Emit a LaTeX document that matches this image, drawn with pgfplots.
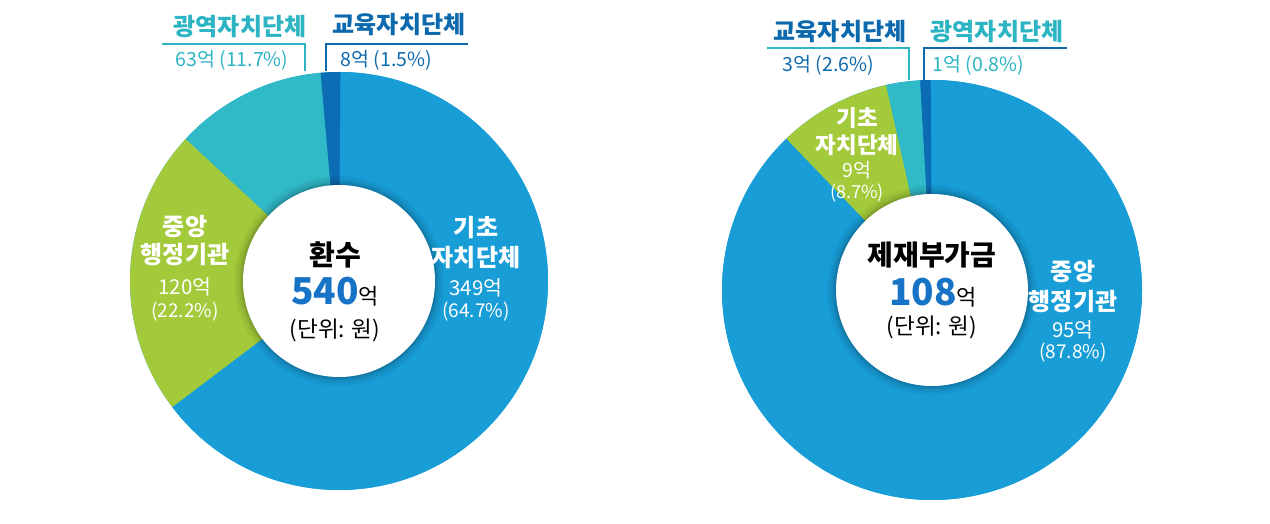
\documentclass[border=0pt]{standalone}
\usepackage{pgfplots}
\pgfplotsset{compat=1.18}
\usepackage{fontspec}
\setmainfont{Noto Sans CJK KR}
\definecolor{cBlue}{HTML}{189DD7}
\definecolor{cGreen}{HTML}{A3CA3A}
\definecolor{cTeal}{HTML}{30B9C6}
\definecolor{cDark}{HTML}{0B6CB3}
\definecolor{tTeal}{HTML}{2DB4C3}
\definecolor{tDark}{HTML}{0D69AE}
\definecolor{tNum}{HTML}{1673C5}
\newcommand\fs[1]{\fontsize{#1}{#1}\selectfont}
% donut: center x, center y, outer radius, list of percent/colour (clockwise from 12 o'clock)
\newcommand\donut[4]{%
  \fill[cBlue] (axis cs:#1,#2) circle[radius=#3pt];
  \gdef\acc{90}%
  \foreach \p/\c in {#4}{%
    \pgfmathsetmacro\e{\acc-3.6*\p}%
    \fill[\c] (axis cs:#1,#2) -- ++(\acc:#3pt) arc[start angle=\acc, end angle=\e, radius=#3pt] -- cycle;
    \global\let\acc\e
  }%
  \foreach \r/\o in {105/0.04,102/0.05,99.5/0.07,97.5/0.09}{\fill[black,opacity=\o] (axis cs:#1,#2) circle[radius=\r pt];}
  \fill[white] (axis cs:#1,#2) circle[radius=96pt];
}
\begin{document}
\begin{tikzpicture}
\begin{axis}[hide axis, scale only axis, disabledatascaling, x=1pt, y=1pt,
  xmin=0, xmax=1270, ymin=0, ymax=524, clip=false]
\pgfplotsextra{
  \path (axis cs:0,0) rectangle (axis cs:1270,524);
  % ---------- 환수 540억 ----------
  \donut{339}{243}{209}{64.7/cBlue,22.2/cGreen,11.7/cTeal,1.5/cDark}
  % ---------- 제재부가금 108억 ----------
  \donut{932}{234}{210}{87.8/cBlue,8.7/cGreen,2.6/cTeal,0.8/cDark}
  % leader lines left
  \draw[tTeal, line width=1.8pt] (axis cs:162,480) -- (axis cs:305,480) -- (axis cs:305,453);
  \draw[tDark, line width=1.8pt] (axis cs:468,480) -- (axis cs:326,480) -- (axis cs:326,453);
  % leader lines right
  \draw[tTeal, line width=1.8pt] (axis cs:767,476) -- (axis cs:909,476) -- (axis cs:909,444);
  \draw[tDark, line width=1.8pt] (axis cs:1067,476) -- (axis cs:924,476) -- (axis cs:924,444);
}
% top labels left
\node[tTeal, font=\fs{24}\bfseries] at (axis cs:240,497) {광역자치단체};
\node[tTeal, font=\fs{19.5}, anchor=west] at (axis cs:172,464) {63억 (11.7\%)};
\node[tDark, font=\fs{24}\bfseries] at (axis cs:399,499) {교육자치단체};
\node[tDark, font=\fs{19.5}, anchor=west] at (axis cs:337,464) {8억 (1.5\%)};
% top labels right
\node[tDark, font=\fs{24}\bfseries] at (axis cs:840,492) {교육자치단체};
\node[tDark, font=\fs{19.5}, anchor=west] at (axis cs:779,459) {3억 (2.6\%)};
\node[tTeal, font=\fs{24}\bfseries] at (axis cs:997,492) {광역자치단체};
\node[tTeal, font=\fs{19.5}, anchor=west] at (axis cs:929,459) {1억 (0.8\%)};
% slice labels left
\node[white, font=\fs{24}\bfseries] at (axis cs:476,296) {기초};
\node[white, font=\fs{24}\bfseries] at (axis cs:476,266) {자치단체};
\node[white, font=\fs{20.5}] at (axis cs:476,236) {349억};
\node[white, font=\fs{19}] at (axis cs:476,212) {(64.7\%)};
\node[white, font=\fs{24}\bfseries] at (axis cs:185,297) {중앙};
\node[white, font=\fs{24}\bfseries] at (axis cs:185,269) {행정기관};
\node[white, font=\fs{20.5}] at (axis cs:185,237) {120억};
\node[white, font=\fs{19}] at (axis cs:185,212) {(22.2\%)};
% centre left
\node[black, font=\fs{28}\bfseries] at (axis cs:335,269) {환수};
\node[anchor=base, inner sep=0pt] at (axis cs:335,219) {\textcolor{tNum}{\fs{37}\bfseries 540}\textcolor{black}{\fs{22}억}};
\node[black, font=\fs{22.5}] at (axis cs:335,194) {(단위: 원)};
% slice labels right
\node[white, font=\fs{24}\bfseries] at (axis cs:1073,252) {중앙};
\node[white, font=\fs{24}\bfseries] at (axis cs:1073,222) {행정기관};
\node[white, font=\fs{20.5}] at (axis cs:1073,194) {95억};
\node[white, font=\fs{19}] at (axis cs:1073,171) {(87.8\%)};
\node[white, font=\fs{22.5}\bfseries] at (axis cs:857,406) {기초};
\node[white, font=\fs{22.5}\bfseries] at (axis cs:857,379) {자치단체};
\node[white, font=\fs{19.5}] at (axis cs:857,354) {9억};
\node[white, font=\fs{18}] at (axis cs:857,331) {(8.7\%)};
% centre right
\node[black, font=\fs{28}\bfseries] at (axis cs:932,269) {제재부가금};
\node[anchor=base, inner sep=0pt] at (axis cs:933,218) {\textcolor{tNum}{\fs{37}\bfseries 108}\textcolor{black}{\fs{22}억}};
\node[black, font=\fs{22.5}] at (axis cs:932,197) {(단위: 원)};
\end{axis}
\end{tikzpicture}
\end{document}
